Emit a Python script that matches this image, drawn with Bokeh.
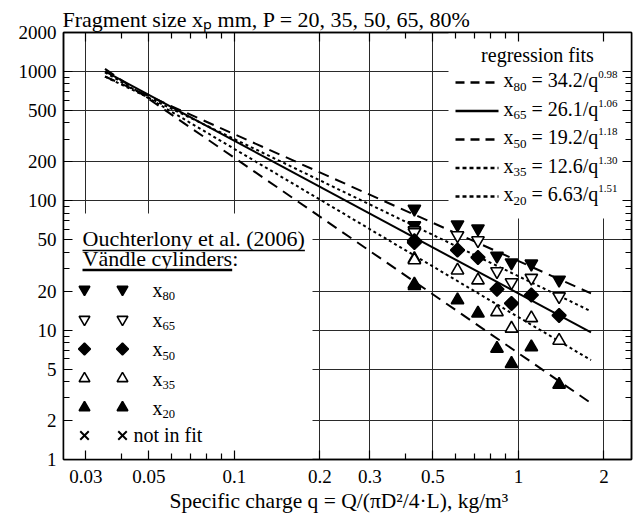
from bokeh.plotting import figure
from bokeh.models import LogAxis, FixedTicker, CustomJSTickFormatter, Label, Range1d, Title
from bokeh.embed import file_html
from bokeh.resources import INLINE

# ---------------- data ----------------
q_charge = [0.43, 0.43, 0.61, 0.72, 0.84, 0.945, 1.11, 1.39]
x80 = [86.5, 64.5, 65.5, 61.0, 37.5, 33.3, 32.6, 24.5]
x65 = [59.0, 57.0, 54.0, 49.4, 28.5, 23.4, 25.3, 18.2]
x50 = [49.0, 47.5, 41.6, 36.5, 20.7, 16.1, 18.7, 13.0]
x35 = [35.5, 34.8, 29.0, 24.3, 13.8, 10.3, 12.4, 8.3]
x20 = [22.6, 22.0, 17.1, 13.5, 7.2, 5.5, 7.4, 3.8]

fit_labels = ["80", "65", "50", "35", "20"]
fit_a = [34.2, 26.1, 19.2, 12.6, 6.63]
fit_b = [0.98, 1.06, 1.18, 1.30, 1.51]
fit_a_txt = ["34.2", "26.1", "19.2", "12.6", "6.63"]
fit_b_txt = ["0.98", "1.06", "1.18", "1.30", "1.51"]
fit_q_span = [0.035, 1.8]

x_ticks = [0.03, 0.05, 0.1, 0.2, 0.3, 0.5, 1, 2]
x_minor = [0.04, 0.06, 0.07, 0.08, 0.09, 0.4, 0.6, 0.7, 0.8, 0.9]
y_ticks = [1, 2, 5, 10, 20, 50, 100, 200, 500, 1000, 2000]
y_minor = [3, 4, 6, 7, 8, 9, 30, 40, 60, 70, 80, 90, 300, 400, 600, 700, 800, 900]

title_text = "Fragment size xₚ mm, P = 20, 35, 50, 65, 80%"
x_title = "Specific charge q = Q/(πD²/4·L), kg/m³"

# ---------------- layout ----------------
L, T, FW, FH, W, H = 63, 32, 568, 427, 638, 524
XMIN, XMAX, YMIN, YMAX = 0.025, 2.5, 1, 2000
FONT = "Liberation Serif"


def dq(X):
    return XMIN * (XMAX / XMIN) ** ((X - L) / FW)


def dv(Y):
    return YMIN * (YMAX / YMIN) ** ((T + FH - Y) / FH)


TW = {' ': 250, '!': 333, '%': 833, '(': 333, ')': 333, ',': 250, '-': 333, '.': 250, '/': 278,
      ':': 278, '=': 564, 'A': 722, 'B': 667, 'C': 667, 'D': 722, 'E': 611, 'F': 556, 'G': 722,
      'H': 722, 'I': 333, 'L': 611, 'M': 889, 'N': 722, 'O': 722, 'P': 556, 'Q': 722, 'R': 667,
      'S': 556, 'T': 611, 'V': 722, 'a': 444, 'b': 500, 'c': 444, 'd': 500, 'e': 444, 'f': 333,
      'g': 500, 'h': 500, 'i': 278, 'j': 278, 'k': 500, 'l': 278, 'm': 778, 'n': 500, 'o': 500,
      'p': 500, 'q': 500, 'r': 333, 's': 389, 't': 278, 'u': 500, 'v': 500, 'w': 722, 'x': 500,
      'y': 500, 'z': 444, 'ä': 444, 'π': 549, '·': 250, '²': 300, '³': 300}


def tw(s, fs):
    return sum(TW.get(c, 500) for c in s) * fs / 1000.0


p = figure(frame_width=FW, frame_height=FH, x_axis_type="log", y_axis_type="log",
           x_range=Range1d(XMIN, XMAX), y_range=Range1d(YMIN, YMAX),
           output_backend="svg", toolbar_location=None,
           min_border_left=L, min_border_right=W - L - FW, min_border_top=T,
           min_border_bottom=H - T - FH)
p.background_fill_color = "white"
p.border_fill_color = "white"
p.outline_line_color = "black"
p.outline_line_width = 1.5

# title (top-left, plain weight)
p.title.text = title_text
p.title.text_font = FONT
p.title.text_font_size = "22px"
p.title.text_font_style = "normal"
p.title.text_color = "black"
p.title.align = "left"
p.title.offset = -1
p.title.standoff = 2

xt = FixedTicker(ticks=x_ticks, minor_ticks=x_minor)
yt = FixedTicker(ticks=y_ticks, minor_ticks=y_minor)


def style_axis(ax, ticker, show_labels, standoff=0):
    ax.ticker = ticker
    ax.axis_line_width = 1.5
    ax.axis_line_color = "black"
    ax.major_tick_in = 9
    ax.major_tick_out = 0
    ax.minor_tick_in = 6
    ax.minor_tick_out = 0
    ax.major_tick_line_width = 1.2
    ax.minor_tick_line_width = 1.2
    ax.major_tick_line_color = "black"
    ax.minor_tick_line_color = "black"
    if show_labels:
        ax.formatter = CustomJSTickFormatter(code="return String(tick);")
        ax.major_label_text_font = FONT
        ax.major_label_text_font_size = "19px"
        ax.major_label_text_color = "black"
        ax.major_label_standoff = standoff
    else:
        ax.formatter = CustomJSTickFormatter(code="return '';")
        ax.major_label_text_font_size = "1px"
        ax.major_label_standoff = 0


style_axis(p.xaxis[0], xt, True, 10)
style_axis(p.yaxis[0], yt, True, 7)

# x-axis title, left-aligned under the frame so its start is exact
p.add_layout(Title(text=x_title, align="left", offset=106, standoff=3, text_font=FONT,
                   text_font_size="21.5px", text_font_style="normal", text_color="black"),
             "below")

top_ax = LogAxis()
right_ax = LogAxis()
style_axis(top_ax, xt, False)
style_axis(right_ax, yt, False)
p.add_layout(top_ax, "above")
p.add_layout(right_ax, "right")

p.xgrid.ticker = xt
p.ygrid.ticker = yt
p.grid.grid_line_color = "#2a2a2a"
p.grid.grid_line_width = 1

# white legend panels (cover the grid)
p.quad(left=[XMIN, dq(448)], right=[dq(312), XMAX], bottom=[YMIN, dv(218)], top=[dv(213), YMAX],
       fill_color="white", line_color=None)

# regression fit lines (styles as drawn in the plot)
plot_dash = ["11 7", "3 3", "solid", "3 3", "11 7"]
for a, b, dash in zip(fit_a, fit_b, plot_dash):
    p.line(fit_q_span, [a / qq ** b for qq in fit_q_span], line_color="black", line_width=2,
           line_dash=dash)

# measured points
series = [
    (x80, "inverted_triangle", "black", 12.5, 0.0),
    (x65, "inverted_triangle", "white", 12.5, 0.0),
    (x50, "square", "black", 9.8, 0.785398),
    (x35, "triangle", "white", 12.5, 0.0),
    (x20, "triangle", "black", 12.5, 0.0),
]
for ys, mk, fill, sz, ang in series:
    p.scatter(q_charge, ys, marker=mk, size=sz, angle=ang, fill_color=fill, line_color="black",
              line_width=1.6)


def rich(X, Ybase, parts, fs, sub_r=0.65, sup_r=0.55):
    """Place text pieces left to right; Ybase is the wanted baseline (pixels from top)."""
    x = X
    for text, kind in parts:
        if kind == "n":
            size, dy = fs, 0.0
        elif kind == "sub":
            size, dy = fs * sub_r, fs * 0.2
        else:
            size, dy = fs * sup_r, -fs * 0.42
        lead = len(text) - len(text.lstrip(" "))
        x += tw(" " * lead, size)
        body = text.strip(" ")
        ymid = Ybase + dy - 0.34 * size
        p.add_layout(Label(x=dq(x), y=dv(ymid), text=body, text_font=FONT,
                           text_font_size="%.1fpx" % size, text_baseline="middle",
                           text_align="left", text_color="black"))
        x += tw(body, size)
    return x


# right legend: regression fits
p.add_layout(Label(x=dq(537), y=dv(61 - 0.34 * 20), text="regression fits", text_font=FONT,
                   text_font_size="20px", text_align="center", text_baseline="middle",
                   text_color="black"))
legend_dash = ["9 6", "solid", "9 6", "4 3", "4 3"]
for i, (lab, at, bt, dash) in enumerate(zip(fit_labels, fit_a_txt, fit_b_txt, legend_dash)):
    Y = 82 + 28.5 * i
    p.line([dq(455), dq(498)], [dv(Y), dv(Y)], line_color="black", line_width=2.5, line_dash=dash)
    rich(503, Y + 4.5, [("x", "n"), (lab, "sub"), (" = " + at + "/q", "n"), (bt, "sup")], 20)

# left legend: data source
h1 = "Ouchterlony et al. (2006)"
h2 = "Vändle cylinders"
rich(82, 245, [(h1, "n")], 22)
rich(82, 265, [(h2 + ":", "n")], 22)
p.line([dq(82), dq(82 + tw(h1, 22))], [dv(250), dv(250)], line_color="black", line_width=1.5)
p.line([dq(82), dq(82 + tw(h2, 22))], [dv(269.5), dv(269.5)], line_color="black", line_width=2.5)

leg_rows = [289, 319, 348.5, 378, 407]
leg_cols = [84, 122]
for Y, (ys, mk, fill, sz, ang), lab in zip(leg_rows, series, fit_labels):
    p.scatter([dq(c) for c in leg_cols], [dv(Y)] * 2, marker=mk, size=sz * 0.86, angle=ang,
              fill_color=fill, line_color="black", line_width=1.6)
    rich(152, Y + 7, [("x", "n"), (lab, "sub")], 20, sub_r=0.63)
p.scatter([dq(c) for c in leg_cols], [dv(435)] * 2, marker="x", size=12, line_color="black",
          line_width=2)
rich(133, 441, [("not in fit", "n")], 20)

open("out.html", "w").write(file_html(p, INLINE))
